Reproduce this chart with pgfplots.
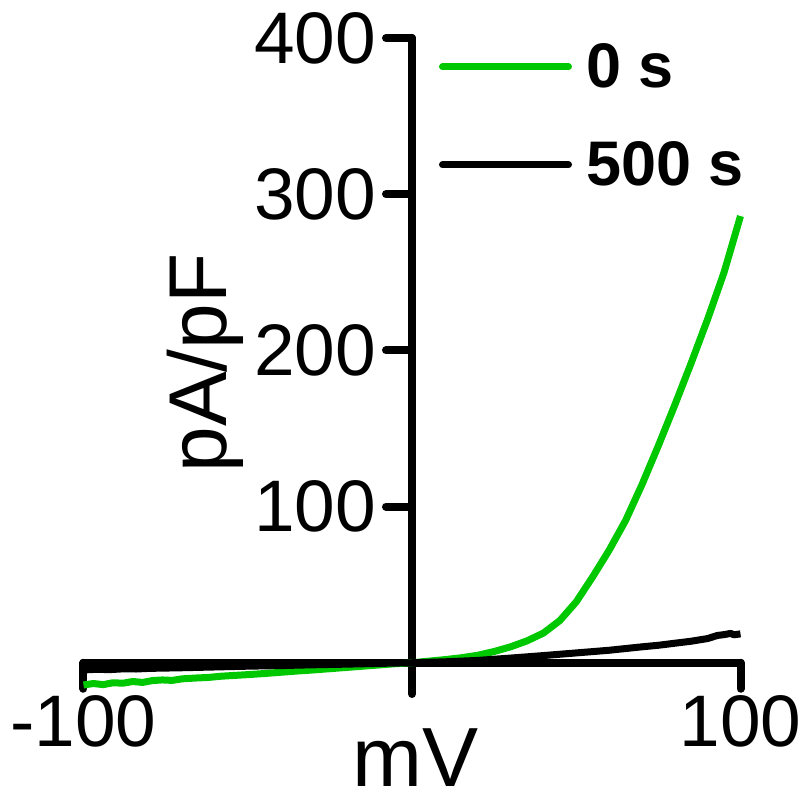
\documentclass[border=0pt]{standalone}
\usepackage{pgfplots}
\pgfplotsset{compat=1.18}
\usepackage{fontspec}
\setmainfont{Liberation Sans}
\definecolor{mygreen}{RGB}{0,200,0}
\begin{document}
\begin{tikzpicture}
\useasboundingbox (-41.75pt,-54pt) rectangle (359.75pt,347pt);
\begin{axis}[
 scale only axis, width=328.5pt, height=328pt,
 xmin=-100, xmax=100, ymin=-20, ymax=400,
 axis lines=middle,
 axis line style={line width=4pt, -, line cap=round},
 xtick={-100,100}, ytick={100,200,300,400},
 tick style={line width=4pt, black, line cap=round},
 major tick length=13pt,
 tick align=outside,
 /pgf/number format/assume math mode=true,
 tick label style={font=\fontsize{36.5}{40}\selectfont},
 yticklabel style={xshift=-1.5pt},
 xlabel={mV}, ylabel={pA/pF},
 xlabel style={font=\fontsize{42}{46}\selectfont, at={(axis description cs:0.506,0)}, anchor=base, yshift=-46.5pt},
 ylabel style={font=\fontsize{41}{45}\selectfont, at={(axis description cs:0.2184,0.5046)}, rotate=90, anchor=base},
 clip=false,
 legend style={draw=none, fill=none, inner sep=0pt, outer sep=0pt,
   at={(axis description cs:0.5411,0.8811)}, anchor=west,
   nodes={inner sep=0pt, font=\fontsize{31.5}{34}\selectfont\bfseries},
   row sep=25.5pt, column sep=7pt},
 legend cell align=left,
 legend image code/.code={\draw[#1, line cap=round] (0pt,0pt) -- (63pt,0pt);},
]
\addplot[mygreen, line width=3.5pt, line join=round] coordinates {
(-100,-14.2) (-97,-13.3) (-94,-14.0) (-91,-12.8) (-88,-13.1) (-85,-12.0) (-82,-12.6)
(-79,-11.4) (-76,-11.0) (-73,-11.3) (-70,-10.3) (-66,-9.8) (-62,-9.4) (-58,-8.6)
(-54,-8.1) (-50,-7.6) (-45,-6.9) (-40,-6.1) (-35,-5.3) (-30,-4.6) (-25,-3.8)
(-20,-3.0) (-15,-2.2) (-10,-1.4) (-5,-0.6) (0,0) (5,1.0) (10,2.0) (15,3.2)
(20,4.8) (25,7.2) (30,10.2) (35,14) (40,19) (45,27) (50,39) (55,55) (60,72)
(65,91) (70,114) (75,139) (80,165) (85,192) (90,220) (95,250) (100,286)
};
\addlegendentry{0 s}
\addplot[black, line width=3.5pt, line join=round] coordinates {
(-100,-4.6) (-96,-4.2) (-92,-4.4) (-88,-3.9) (-84,-4.0) (-80,-3.6) (-75,-3.4)
(-70,-3.2) (-60,-2.7) (-50,-2.2) (-40,-1.8) (-30,-1.3) (-20,-0.9) (-10,-0.4)
(0,0) (10,0.6) (20,1.5) (30,3.0) (40,4.6) (50,6.3) (60,8.0) (70,10.2) (75,11.2)
(80,12.5) (85,13.8) (90,15.5) (93,17.5) (95,18.0) (97,18.8) (98,17.9) (100,18.5)
};
\addlegendentry{500 s}
\end{axis}
\end{tikzpicture}
\end{document}
